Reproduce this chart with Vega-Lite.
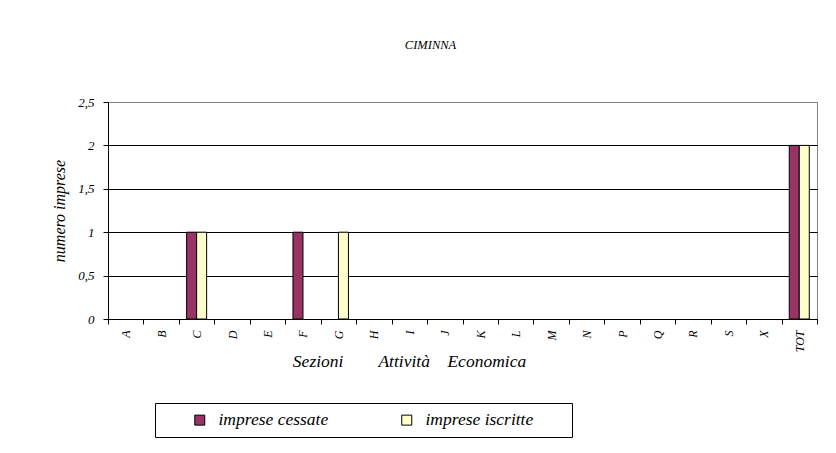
{
  "$schema": "https://vega.github.io/schema/vega-lite/v6.json",
  "autosize": {"type": "none"},
  "width": 709,
  "height": 217,
  "padding": {"left": 108, "top": 102, "right": 19, "bottom": 134},
  "background": "white",
  "title": {
    "text": "CIMINNA",
    "font": "'Liberation Serif', 'DejaVu Serif', serif",
    "fontStyle": "italic",
    "fontWeight": "normal",
    "fontSize": 12.5,
    "color": "#000",
    "anchor": "middle",
    "dx": -32,
    "offset": 45
  },
  "config": {
    "view": {"stroke": "#808080", "strokeWidth": 1},
    "axis": {
      "labelFont": "'Liberation Serif', 'DejaVu Serif', serif",
      "labelFontStyle": "italic",
      "titleFont": "'Liberation Serif', 'DejaVu Serif', serif",
      "titleFontStyle": "italic",
      "titleFontWeight": "normal",
      "labelColor": "#000",
      "titleColor": "#000",
      "domainColor": "#000",
      "tickColor": "#000"
    },
    "legend": {
      "labelFont": "'Liberation Serif', 'DejaVu Serif', serif",
      "labelFontStyle": "italic",
      "titleFont": "'Liberation Serif', 'DejaVu Serif', serif"
    }
  },
  "data": {
    "values": [
      {"sezione": "A", "serie": "imprese cessate", "valore": 0},
      {"sezione": "A", "serie": "imprese iscritte", "valore": 0},
      {"sezione": "B", "serie": "imprese cessate", "valore": 0},
      {"sezione": "B", "serie": "imprese iscritte", "valore": 0},
      {"sezione": "C", "serie": "imprese cessate", "valore": 1},
      {"sezione": "C", "serie": "imprese iscritte", "valore": 1},
      {"sezione": "D", "serie": "imprese cessate", "valore": 0},
      {"sezione": "D", "serie": "imprese iscritte", "valore": 0},
      {"sezione": "E", "serie": "imprese cessate", "valore": 0},
      {"sezione": "E", "serie": "imprese iscritte", "valore": 0},
      {"sezione": "F", "serie": "imprese cessate", "valore": 1},
      {"sezione": "F", "serie": "imprese iscritte", "valore": 0},
      {"sezione": "G", "serie": "imprese cessate", "valore": 0},
      {"sezione": "G", "serie": "imprese iscritte", "valore": 1},
      {"sezione": "H", "serie": "imprese cessate", "valore": 0},
      {"sezione": "H", "serie": "imprese iscritte", "valore": 0},
      {"sezione": "I", "serie": "imprese cessate", "valore": 0},
      {"sezione": "I", "serie": "imprese iscritte", "valore": 0},
      {"sezione": "J", "serie": "imprese cessate", "valore": 0},
      {"sezione": "J", "serie": "imprese iscritte", "valore": 0},
      {"sezione": "K", "serie": "imprese cessate", "valore": 0},
      {"sezione": "K", "serie": "imprese iscritte", "valore": 0},
      {"sezione": "L", "serie": "imprese cessate", "valore": 0},
      {"sezione": "L", "serie": "imprese iscritte", "valore": 0},
      {"sezione": "M", "serie": "imprese cessate", "valore": 0},
      {"sezione": "M", "serie": "imprese iscritte", "valore": 0},
      {"sezione": "N", "serie": "imprese cessate", "valore": 0},
      {"sezione": "N", "serie": "imprese iscritte", "valore": 0},
      {"sezione": "P", "serie": "imprese cessate", "valore": 0},
      {"sezione": "P", "serie": "imprese iscritte", "valore": 0},
      {"sezione": "Q", "serie": "imprese cessate", "valore": 0},
      {"sezione": "Q", "serie": "imprese iscritte", "valore": 0},
      {"sezione": "R", "serie": "imprese cessate", "valore": 0},
      {"sezione": "R", "serie": "imprese iscritte", "valore": 0},
      {"sezione": "S", "serie": "imprese cessate", "valore": 0},
      {"sezione": "S", "serie": "imprese iscritte", "valore": 0},
      {"sezione": "X", "serie": "imprese cessate", "valore": 0},
      {"sezione": "X", "serie": "imprese iscritte", "valore": 0},
      {"sezione": "TOT", "serie": "imprese cessate", "valore": 2},
      {"sezione": "TOT", "serie": "imprese iscritte", "valore": 2}
    ]
  },
  "mark": {"type": "bar", "stroke": "#000", "strokeWidth": 1},
  "encoding": {
    "x": {
      "field": "sezione",
      "type": "nominal",
      "sort": null,
      "scale": {
        "domain": ["A","B","C","D","E","F","G","H","I","J","K","L","M","N","P","Q","R","S","X","TOT"],
        "paddingInner": 0,
        "paddingOuter": 0
      },
      "axis": {
        "title": "Sezioni\u00a0\u00a0\u00a0\u00a0\u00a0\u00a0\u00a0\u00a0Attività\u00a0\u00a0\u00a0\u00a0Economica",
        "titleFontSize": 17.5,
        "titlePadding": 1,
        "titleX": 301,
        "titleAnchor": "middle",
        "labelAngle": -90,
        "labelFontSize": 12,
        "labelPadding": 6,
        "tickBand": "extent",
        "tickSize": 5,
        "domainWidth": 1,
        "grid": false
      }
    },
    "xOffset": {
      "field": "serie",
      "type": "nominal",
      "sort": ["imprese cessate", "imprese iscritte"],
      "scale": {"paddingInner": 0, "paddingOuter": 0.77}
    },
    "y": {
      "field": "valore",
      "type": "quantitative",
      "scale": {"domain": [0, 2.5], "nice": false},
      "axis": {
        "title": "numero imprese",
        "titleFontSize": 16,
        "titlePadding": 10,
        "values": [0, 0.5, 1, 1.5, 2, 2.5],
        "labelExpr": "replace(format(datum.value, '~g'), '.', ',')",
        "labelFontSize": 13,
        "labelPadding": 9,
        "tickSize": 5,
        "grid": true,
        "gridColor": {"condition": {"test": "datum.value >= 2.5", "value": "#808080"}, "value": "#000"},
        "gridWidth": 1
      }
    },
    "strokeOpacity": {
      "condition": {"test": "datum.valore > 0", "value": 1},
      "value": 0
    },
    "color": {
      "field": "serie",
      "type": "nominal",
      "scale": {"domain": ["imprese cessate", "imprese iscritte"], "range": ["#993366", "#FFFFCC"]},
      "legend": {
        "orient": "none",
        "legendX": 47,
        "legendY": 301,
        "direction": "horizontal",
        "title": "\u00a0",
        "titleOrient": "left",
        "titleFontSize": 16,
        "titlePadding": 28,
        "padding": 8,
        "strokeColor": "#000",
        "fillColor": "#fff",
        "symbolType": "square",
        "symbolSize": 100,
        "symbolStrokeColor": "#000",
        "symbolStrokeWidth": 1,
        "symbolOpacity": 1,
        "labelFontSize": 17.5,
        "labelColor": "#000",
        "labelOffset": 10,
        "columnPadding": 69,
        "labelLimit": 300,
        "labelExpr": "(datum.value == 'imprese iscritte' || datum.label == 'imprese iscritte') ? datum.label + '\u00a0\u00a0\u00a0\u00a0\u00a0\u00a0\u00a0\u200b' : datum.label"
      }
    }
  }
}
